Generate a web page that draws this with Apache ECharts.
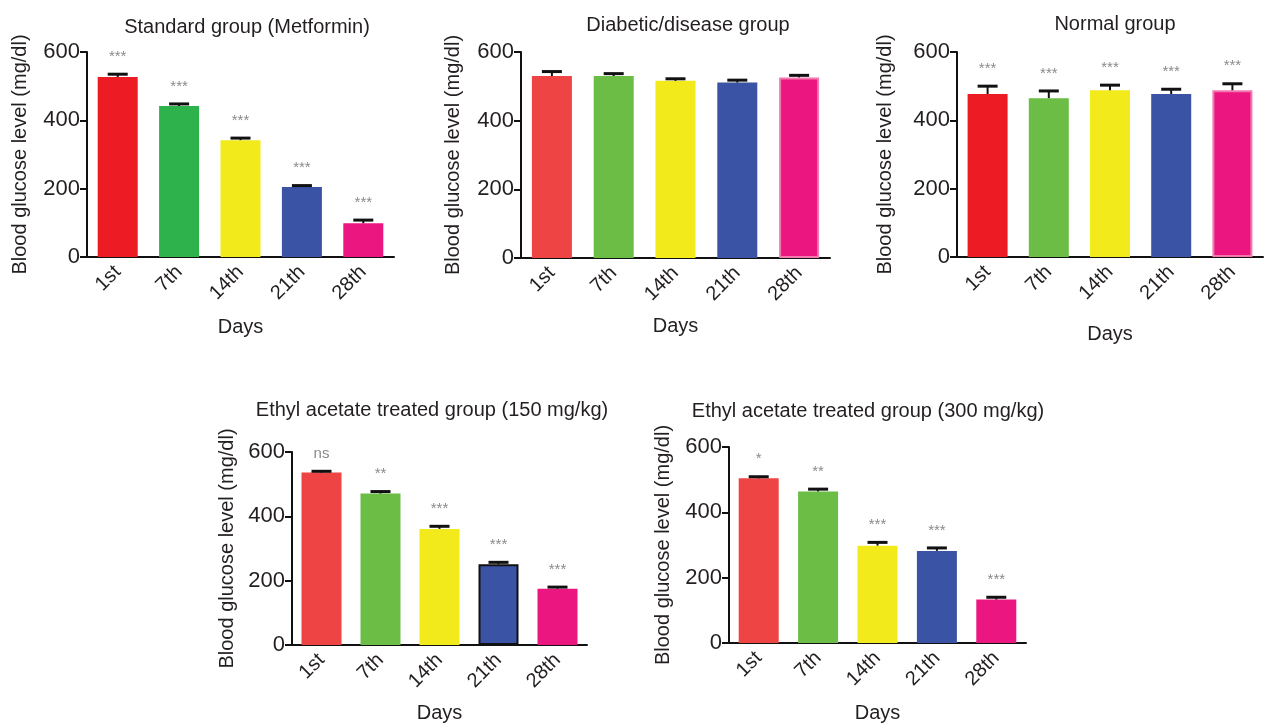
<!DOCTYPE html>
<html>
<head>
<meta charset="utf-8">
<script src="https://cdn.jsdelivr.net/npm/echarts@6/dist/echarts.min.js"></script>
<style>
  html, body { margin: 0; padding: 0; background: #fff; }
  #main { width: 1265px; height: 724px; }
</style>
</head>
<body>
<div id="main"></div>
<script>
// days of measurement
const days = ['1st', '7th', '14th', '21th', '28th']

// blood glucose (mg/dl), mean and upper error
const standardMean = [527, 442, 342, 205, 99]
const standardErr = [8, 6, 6, 4, 9]
const standardMarks = ['***', '***', '***', '***', '***']

const diabeticMean = [530, 530, 516, 511, 526]
const diabeticErr = [13, 7, 6, 7, 6]

const normalMean = [477, 465, 488, 477, 488]
const normalErr = [23, 21, 15, 14, 19]
const normalMarks = ['***', '***', '***', '***', '***']

const ea150Mean = [536, 471, 361, 251, 175]
const ea150Err = [4, 6, 8, 6, 5]
const ea150Marks = ['ns', '**', '***', '***', '***']

const ea300Mean = [504, 464, 298, 282, 133]
const ea300Err = [5, 7, 10, 9, 7]
const ea300Marks = ['*', '**', '***', '***', '***']

const titles = [
  'Standard group (Metformin)',
  'Diabetic/disease group',
  'Normal group',
  'Ethyl acetate treated group (150 mg/kg)',
  'Ethyl acetate treated group (300 mg/kg)'
]

const FONT = 'Liberation Sans, Arial, Helvetica, sans-serif'
const INK = '#231F20'
const colorsA = ['#ED1C24', '#2EB24B', '#F2EA1A', '#3A53A4', '#EC1680']
const colorsB = ['#EE4443', '#6BBD45', '#F2EA1A', '#3A53A4', '#EC1680']

// plot areas
const grids = [
  { left: 87, top: 52, width: 307, height: 205 },
  { left: 521, top: 52, width: 309, height: 206 },
  { left: 957, top: 52, width: 306, height: 205 },
  { left: 292, top: 452, width: 295, height: 196 },
  { left: 729, top: 447, width: 297, height: 199 }
]
const titlePos = [[247, 17], [688, 15], [1115, 14], [432, 400], [868, 401]]
const xNameGap = [60, 58, 67, 58, 60]
const yNameGap = [57, 58, 62, 55, 56]

function barSeries (i, means, colors, borders) {
  return {
    type: 'bar',
    xAxisIndex: i,
    yAxisIndex: i,
    barWidth: 40,
    data: means.map((v, k) => ({
      value: v,
      itemStyle: {
        color: colors[k],
        borderColor: borders && borders[k] ? borders[k] : colors[k],
        borderWidth: borders && borders[k] ? 2 : 0
      }
    })),
    z: 2
  }
}

function errSeries (i, means, errs, marks) {
  return {
    type: 'custom',
    xAxisIndex: i,
    yAxisIndex: i,
    data: means.map((m, k) => [k, m, errs[k]]),
    encode: { x: 0, y: 1 },
    z: 3,
    renderItem: function (params, api) {
      const base = api.coord([api.value(0), api.value(1)])
      const top = api.coord([api.value(0), api.value(1) + api.value(2)])
      const children = [
        {
          type: 'line',
          shape: { x1: base[0], y1: base[1], x2: top[0], y2: top[1] },
          style: { stroke: '#111', lineWidth: 2 }
        },
        {
          type: 'line',
          shape: { x1: top[0] - 10, y1: top[1], x2: top[0] + 10, y2: top[1] },
          style: { stroke: '#111', lineWidth: 3 }
        }
      ]
      if (marks) {
        children.push({
          type: 'text',
          x: top[0],
          y: top[1] - 10,
          style: {
            text: marks[params.dataIndex],
            align: 'center',
            verticalAlign: 'bottom',
            fontSize: 15,
            fontFamily: FONT,
            fill: '#8a8a8a'
          }
        })
      }
      return { type: 'group', children: children }
    }
  }
}

const option = {
  backgroundColor: '#fff',
  animation: false,
  title: titles.map((t, i) => ({
    text: t,
    left: titlePos[i][0],
    top: titlePos[i][1],
    textAlign: 'center',
    padding: 0,
    textStyle: { fontFamily: FONT, fontSize: 20, fontWeight: 'normal', color: INK }
  })),
  grid: grids,
  xAxis: grids.map((g, i) => ({
    type: 'category',
    gridIndex: i,
    data: days,
    name: 'Days',
    nameLocation: 'middle',
    nameGap: xNameGap[i],
    nameTextStyle: { fontFamily: FONT, fontSize: 20, color: INK },
    axisLine: { lineStyle: { color: '#111', width: 2 } },
    axisTick: { alignWithLabel: true, length: 7, lineStyle: { color: '#111', width: 2 } },
    axisLabel: { rotate: 45, margin: 12, fontFamily: FONT, fontSize: 20, color: INK }
  })),
  yAxis: grids.map((g, i) => ({
    type: 'value',
    gridIndex: i,
    min: 0,
    max: 600,
    interval: 200,
    name: 'Blood glucose level (mg/dl)',
    nameLocation: 'middle',
    nameGap: yNameGap[i],
    nameTextStyle: { fontFamily: FONT, fontSize: 20, color: INK },
    axisLine: { show: true, lineStyle: { color: '#111', width: 2 } },
    axisTick: { show: true, length: 7, lineStyle: { color: '#111', width: 2 } },
    axisLabel: { margin: 7, fontFamily: FONT, fontSize: 22, color: INK },
    splitLine: { show: false }
  })),
  series: [
    barSeries(0, standardMean, colorsA),
    errSeries(0, standardMean, standardErr, standardMarks),
    barSeries(1, diabeticMean, colorsB, [null, null, null, null, '#F27AAE']),
    errSeries(1, diabeticMean, diabeticErr, null),
    barSeries(2, normalMean, colorsA.map((c, k) => k === 1 ? colorsB[1] : c), [null, null, null, null, '#F27AAE']),
    errSeries(2, normalMean, normalErr, normalMarks),
    barSeries(3, ea150Mean, colorsB, [null, null, null, '#111', null]),
    errSeries(3, ea150Mean, ea150Err, ea150Marks),
    barSeries(4, ea300Mean, colorsB),
    errSeries(4, ea300Mean, ea300Err, ea300Marks)
  ]
}

const myChart = echarts.init(document.getElementById('main'))
myChart.setOption(option)
</script>
</body>
</html>
